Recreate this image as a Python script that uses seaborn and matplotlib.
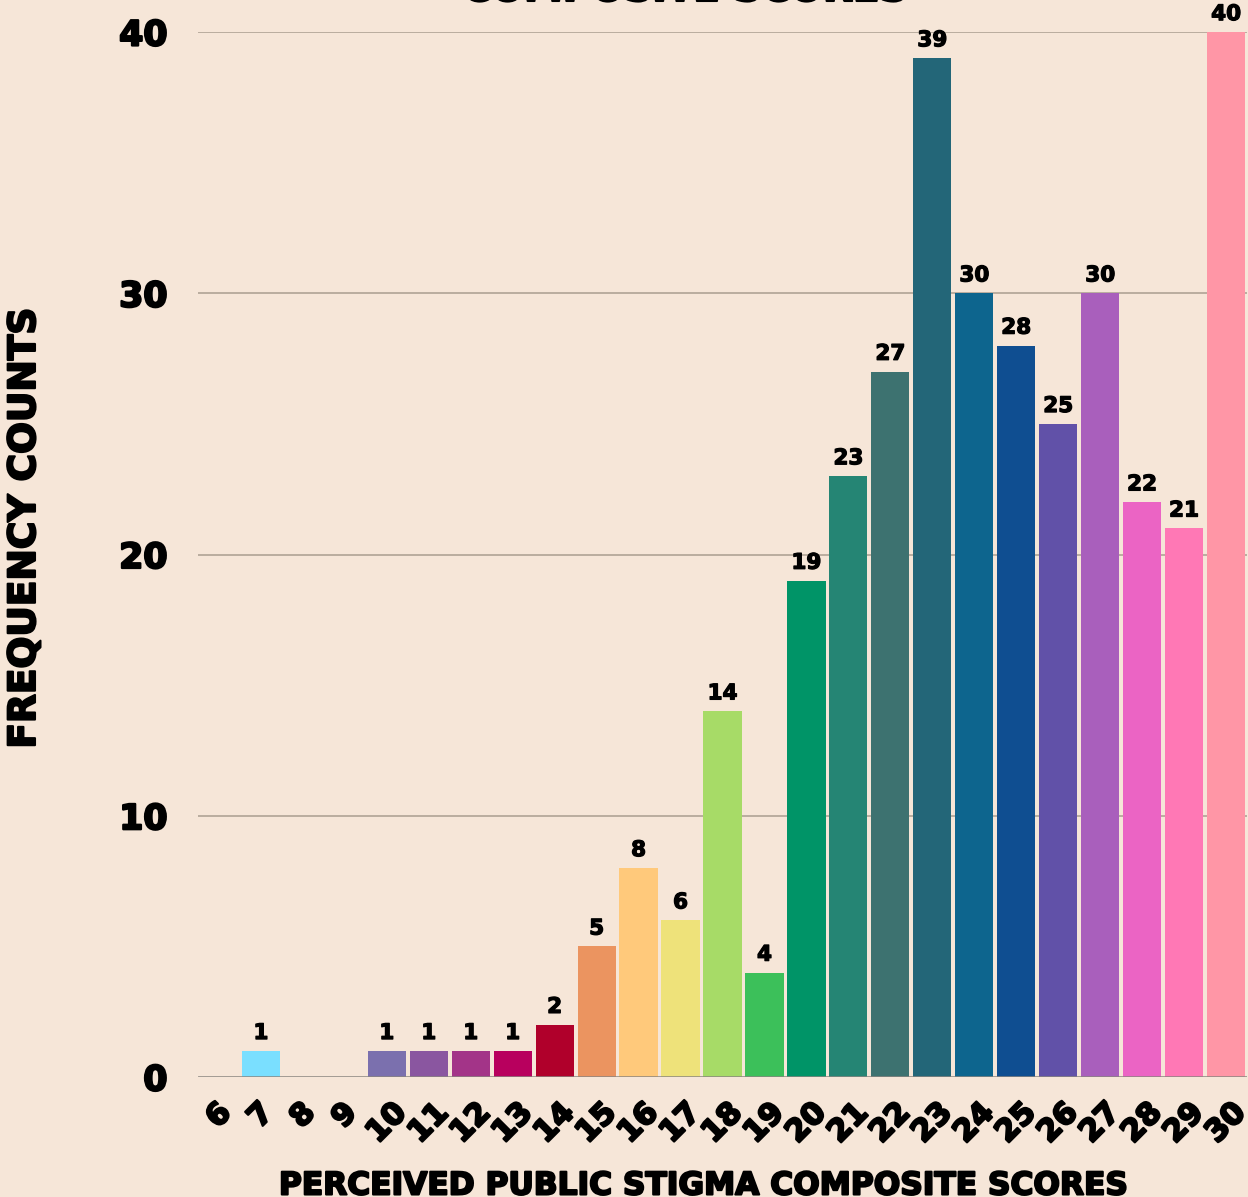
import matplotlib
matplotlib.use("Agg")
import matplotlib.pyplot as plt
import matplotlib.patheffects as pe
import seaborn as sns
import pandas as pd

scores = [str(s) for s in range(6, 31)]
counts = [0, 1, 0, 0, 1, 1, 1, 1, 2, 5, 8, 6, 14, 4, 19, 23, 27, 39, 30, 28, 25, 30, 22, 21, 40]
bar_colors = ["#7adfff", "#7adfff", "#7adfff", "#7adfff", "#7b70ae", "#8a56a0", "#a33488",
              "#b8005e", "#b0002b", "#eb9460", "#ffc97b", "#eee27a", "#a7db67", "#3cc05a",
              "#009467", "#258574", "#3d7270", "#236678", "#0d658e", "#0f4e91", "#6151a8",
              "#a95fbc", "#eb64c4", "#ff78b5", "#ff96a6"]
title_text = "COMPOSITE SCORES"
x_label = "PERCEIVED PUBLIC STIGMA COMPOSITE SCORES"
y_label = "FREQUENCY COUNTS"
y_ticks = [0, 10, 20, 30, 40]

bg = "#f6e6d8"
sns.set_theme(style="white")
plt.rcParams["font.family"] = ["DejaVu Sans"]
plt.rcParams["text.color"] = "black"
plt.rcParams["xtick.color"] = "black"
plt.rcParams["ytick.color"] = "black"

heavy = lambda w: [pe.withStroke(linewidth=w, foreground="black")]

df = pd.DataFrame({"score": scores, "count": counts})
palette = dict(zip(scores, bar_colors))

fig = plt.figure(figsize=(12.48, 11.97), dpi=100, facecolor=bg)
ax = fig.add_axes([198 / 1248, 1 - 1077 / 1197, (1247 - 198) / 1248, (1077 - 32) / 1197])
ax.set_facecolor(bg)

for v in y_ticks[1:]:
    ax.axhline(v, color="#b5a89b", lw=1.3, zorder=0)

sns.barplot(data=df, x="score", y="count", hue="score", palette=palette, legend=False,
            width=0.91, saturation=1, ax=ax, zorder=2, linewidth=0)
ax.axhline(0, color="#8a8580", lw=1.8, zorder=3)

for i, c in enumerate(counts):
    if c > 0:
        ax.text(i, c + 0.3, str(c), ha="center", va="bottom", fontsize=15.5,
                fontweight="bold", color="black", zorder=4, path_effects=heavy(0.9))

ax.set_xlim(-0.5, len(scores) - 0.5)
ax.set_ylim(0, 40)
ax.set_yticks(y_ticks)
ax.set_yticklabels([str(t) for t in y_ticks], fontsize=25, fontweight="bold")
ax.set_xticks(range(len(scores)))
ax.set_xticklabels(scores, fontsize=22, fontweight="bold", rotation=45, ha="center", va="top")
for lab in ax.get_yticklabels() + ax.get_xticklabels():
    lab.set_path_effects(heavy(1.6))
ax.tick_params(axis="y", length=0, pad=22)
ax.tick_params(axis="x", length=0, pad=15)
for s in ax.spines.values():
    s.set_visible(False)
ax.set_xlabel("")
ax.set_ylabel("")

fig.text(25 / 1248, 1 - 528 / 1197, y_label, rotation=90, ha="center", va="center",
         fontsize=27, fontweight="bold", path_effects=heavy(1.5))
fig.text(703 / 1248, 1 - 1186 / 1197, x_label, ha="center", va="center",
         fontsize=22.5, fontweight="bold", path_effects=heavy(1.5))
fig.text(685 / 1248, 1 - 1 / 1197, title_text, ha="center", va="baseline",
         fontsize=28, fontweight="bold", path_effects=heavy(1.5))

fig.savefig("out.png", dpi=100, facecolor=bg)
